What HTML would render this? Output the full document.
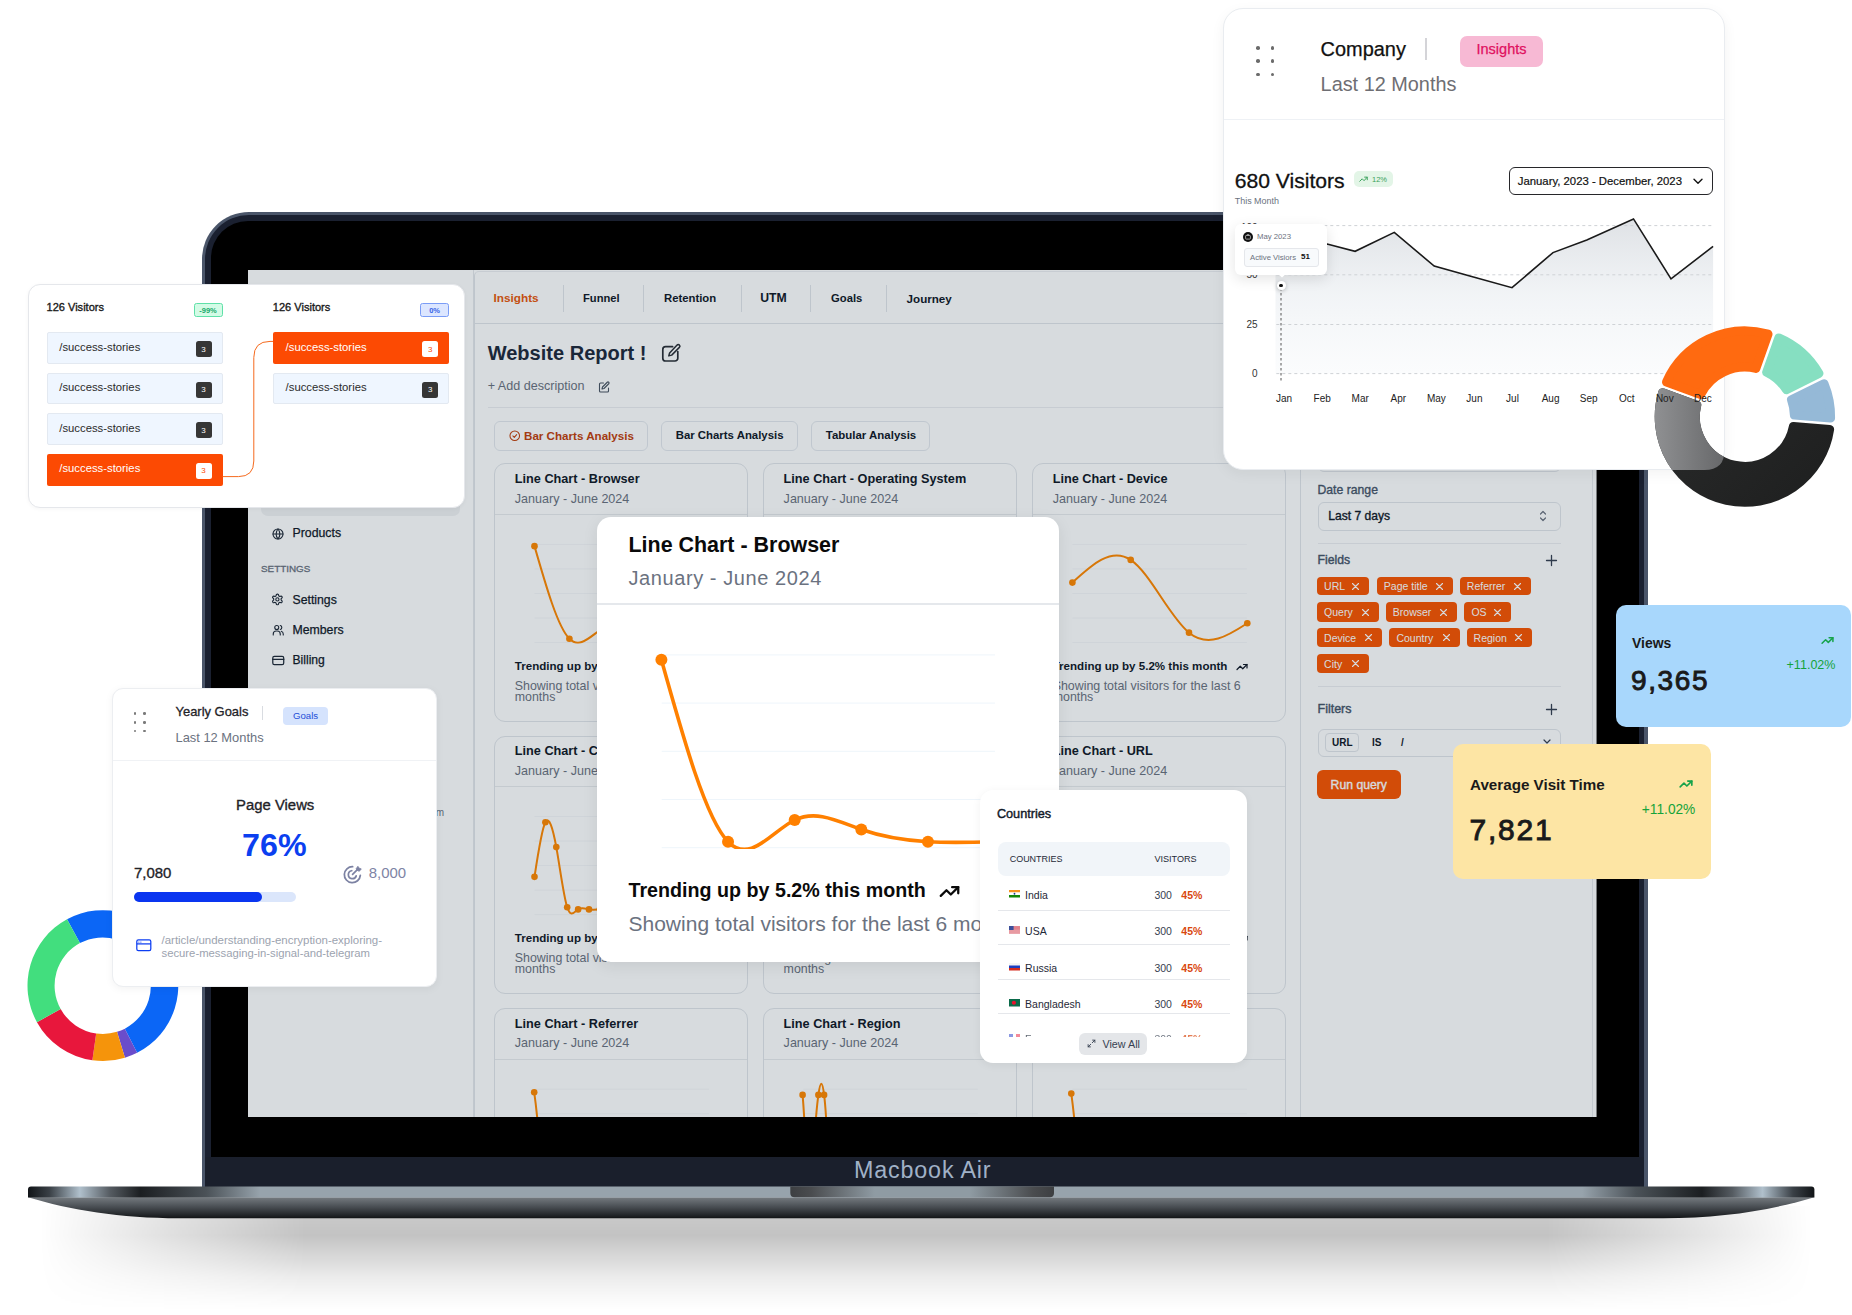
<!DOCTYPE html><html><head><meta charset="utf-8"><title>Macbook Dashboard</title><style>
*{box-sizing:border-box;margin:0;padding:0}
html,body{width:1852px;height:1315px;overflow:hidden;background:#fff;font-family:"Liberation Sans", Arial, sans-serif;}
.a{position:absolute}
.t{position:absolute;white-space:nowrap}
svg{position:absolute;overflow:visible}
</style></head><body>
<div class="a" style="left:40px;top:1206px;width:1772px;height:104px;background:linear-gradient(to bottom, rgba(0,0,0,0.2) 0%, rgba(0,0,0,0.235) 28%, rgba(0,0,0,0.15) 50%, rgba(0,0,0,0.075) 69%, rgba(0,0,0,0.025) 88%, rgba(0,0,0,0) 100%);-webkit-mask-image:linear-gradient(to right, transparent 0%, rgba(0,0,0,0.5) 7%, #000 15%, #000 85%, rgba(0,0,0,0.5) 93%, transparent 100%);"></div>
<div class="a" style="left:202.0px;top:212.0px;width:1446.0px;height:975.0px;background:#4a5569;border-radius:47px 47px 0 0;"></div>
<div class="a" style="left:204.5px;top:214.5px;width:1439.8px;height:972.5px;background:#1a2030;border-radius:44px 44px 0 0;"></div>
<div class="a" style="left:210.5px;top:221.0px;width:1428.5px;height:935.5px;background:#000;border-radius:37px 37px 0 0;"></div>
<div class="a" style="left:204.5px;top:1156.5px;width:1439.8px;height:30.5px;background:#1a1f2c;"></div>
<div class="t " style="left:922.7px;top:1158.5px;font-size:23.3px;line-height:23.3px;color:#a0b1c7;font-weight:400;letter-spacing:0.85px;transform:translateX(-50%);">Macbook Air</div>
<div class="a" style="left:0;top:0;width:1852px;height:1315px;clip-path:inset(270px 255.5px 198px 248px);background:#fff">
<div class="a" style="left:261.0px;top:480.0px;width:199.0px;height:35.5px;background:#f1f2f4;border-radius:7px;"></div>
<svg style="left:271.5px;top:527.5px" width="12" height="12" viewBox="0 0 24 24" stroke="#1f2937" stroke-width="2.2" fill="none" stroke-linecap="round" stroke-linejoin="round"><circle cx="12" cy="12" r="10"/><path d="M2 12h20M12 2a15 15 0 0 1 0 20M12 2a15 15 0 0 0 0 20"/></svg>
<div class="t " style="left:292.5px;top:527.3px;font-size:12.32px;line-height:12.32px;color:#111827;font-weight:400;-webkit-text-stroke:0.25px #111827;">Products</div>
<div class="t " style="left:261.0px;top:563.5px;font-size:9.9px;line-height:9.9px;color:#6b7280;font-weight:400;-webkit-text-stroke:0.3px #6b7280;">SETTINGS</div>
<svg style="left:271.3px;top:593.3px" width="12.8" height="12.8" viewBox="0 0 24 24" stroke="#1f2937" stroke-width="2.1" fill="none" stroke-linecap="round" stroke-linejoin="round"><path d="M12.22 2h-.44a2 2 0 0 0-2 2v.18a2 2 0 0 1-1 1.73l-.43.25a2 2 0 0 1-2 0l-.15-.08a2 2 0 0 0-2.73.73l-.22.38a2 2 0 0 0 .73 2.73l.15.1a2 2 0 0 1 1 1.72v.51a2 2 0 0 1-1 1.74l-.15.09a2 2 0 0 0-.73 2.73l.22.38a2 2 0 0 0 2.73.73l.15-.08a2 2 0 0 1 2 0l.43.25a2 2 0 0 1 1 1.73V20a2 2 0 0 0 2 2h.44a2 2 0 0 0 2-2v-.18a2 2 0 0 1 1-1.73l.43-.25a2 2 0 0 1 2 0l.15.08a2 2 0 0 0 2.73-.73l.22-.39a2 2 0 0 0-.73-2.73l-.15-.08a2 2 0 0 1-1-1.74v-.5a2 2 0 0 1 1-1.74l.15-.09a2 2 0 0 0 .73-2.73l-.22-.38a2 2 0 0 0-2.73-.73l-.15.08a2 2 0 0 1-2 0l-.43-.25a2 2 0 0 1-1-1.73V4a2 2 0 0 0-2-2z"/><circle cx="12" cy="12" r="3"/></svg>
<div class="t " style="left:292.5px;top:593.6px;font-size:12.26px;line-height:12.26px;color:#111827;font-weight:400;-webkit-text-stroke:0.25px #111827;">Settings</div>
<svg style="left:271.5px;top:623.5px" width="12.5" height="12" viewBox="0 0 24 24" stroke="#1f2937" stroke-width="2.2" fill="none" stroke-linecap="round" stroke-linejoin="round"><circle cx="9" cy="7" r="4"/><path d="M2 22v-2a6 6 0 0 1 6-6h2a6 6 0 0 1 6 6v2M16 3.1a4 4 0 0 1 0 7.8M22 22v-2a6 6 0 0 0-4-5.6"/></svg>
<div class="t " style="left:292.5px;top:623.6px;font-size:12.29px;line-height:12.29px;color:#111827;font-weight:400;-webkit-text-stroke:0.25px #111827;">Members</div>
<svg style="left:271.5px;top:655px" width="12.5" height="11" viewBox="0 0 24 20" stroke="#1f2937" stroke-width="2.4" fill="none" stroke-linecap="round" stroke-linejoin="round"><rect x="1.5" y="2" width="21" height="16" rx="3"/><path d="M1.5 8h21"/></svg>
<div class="t " style="left:292.5px;top:654.4px;font-size:12.11px;line-height:12.11px;color:#111827;font-weight:400;-webkit-text-stroke:0.25px #111827;">Billing</div>
<div class="t " style="right:1408.0px;top:807.5px;font-size:10px;line-height:10px;color:#6b7280;font-weight:400;">admin@example.com</div>
<div class="a" style="left:473.0px;top:270.0px;width:1.0px;height:847.0px;background:#e5e7eb;"></div>
<div class="a" style="left:473.5px;top:271.0px;width:827.1px;height:846.0px;border-left:1px solid #e2e5ea;border-top:1px solid #eceef1;border-radius:5px 0 0 0;"></div>
<div class="a" style="left:474.0px;top:323.0px;width:826.6px;height:1.0px;background:#e2e5ea;"></div>
<div class="t " style="left:493.5px;top:292.3px;font-size:11.79px;line-height:11.79px;color:#e8590c;font-weight:700;">Insights</div>
<div class="t " style="left:583.0px;top:292.8px;font-size:11.2px;line-height:11.2px;color:#111827;font-weight:700;">Funnel</div>
<div class="t " style="left:664.0px;top:292.7px;font-size:11.32px;line-height:11.32px;color:#111827;font-weight:700;">Retention</div>
<div class="t " style="left:760.3px;top:291.9px;font-size:12.23px;line-height:12.23px;color:#111827;font-weight:700;">UTM</div>
<div class="t " style="left:831.1px;top:292.8px;font-size:11.23px;line-height:11.23px;color:#111827;font-weight:700;">Goals</div>
<div class="t " style="left:906.6px;top:292.5px;font-size:11.62px;line-height:11.62px;color:#111827;font-weight:700;">Journey</div>
<div class="a" style="left:562.6px;top:284.6px;width:1.0px;height:27.7px;background:#e2e5ea;"></div>
<div class="a" style="left:643.4px;top:284.6px;width:1.0px;height:27.7px;background:#e2e5ea;"></div>
<div class="a" style="left:740.5px;top:284.6px;width:1.0px;height:27.7px;background:#e2e5ea;"></div>
<div class="a" style="left:810.4px;top:284.6px;width:1.0px;height:27.7px;background:#e2e5ea;"></div>
<div class="a" style="left:886.2px;top:284.6px;width:1.0px;height:27.7px;background:#e2e5ea;"></div>
<div class="t " style="left:487.7px;top:342.5px;font-size:20.05px;line-height:20.05px;color:#1e293b;font-weight:700;">Website Report !</div>
<svg style="left:0;top:0" width="1852" height="1315" viewBox="0 0 1852 1315" fill="none" stroke="#2b2f36" stroke-width="1.7" stroke-linecap="round" stroke-linejoin="round"><path d="M672.6,346.7 H665.6 A2.8,2.8 0 0 0 662.8,349.5 V358.2 A2.8,2.8 0 0 0 665.6,361 H675 A2.8,2.8 0 0 0 677.8,358.2 V351.6"/><path d="M677.1,345.1 a1.6,1.6 0 0 1 2.3,2.3 l-7.7,7.7 -2.9,0.8 0.8,-2.9 z" stroke-width="1.5"/></svg>
<div class="t " style="left:487.7px;top:380.3px;font-size:12.57px;line-height:12.57px;color:#6b7280;font-weight:400;">+ Add description</div>
<svg style="left:598px;top:380.5px" width="12" height="12" viewBox="0 0 24 24" fill="none" stroke="#4b5563" stroke-width="2.2" stroke-linecap="round" stroke-linejoin="round"><path d="M11 4H5a2 2 0 0 0-2 2v14a2 2 0 0 0 2 2h14a2 2 0 0 0 2-2v-6"/><path d="M18.5 2.5a2.1 2.1 0 0 1 3 3L12 15l-4 1 1-4z"/></svg>
<div class="a" style="left:487.7px;top:406.5px;width:812.3px;height:1.0px;background:#eceef1;"></div>
<div class="a" style="left:493.5px;top:421.2px;width:154.0px;height:29.4px;border:1px solid #e4e8ee;border-radius:6px;"></div>
<svg style="left:508.5px;top:430px" width="11.5" height="11.5" viewBox="0 0 24 24" fill="none" stroke="#c2410c" stroke-width="2.2" stroke-linecap="round" stroke-linejoin="round"><circle cx="12" cy="12" r="10"/><path d="M8 12.5l3 3 5-6"/></svg>
<div class="t " style="left:524.0px;top:430.0px;font-size:11.61px;line-height:11.61px;color:#c2410c;font-weight:700;">Bar Charts Analysis</div>
<div class="a" style="left:661.2px;top:421.2px;width:136.7px;height:29.4px;border:1px solid #e4e8ee;border-radius:6px;"></div>
<div class="t " style="left:675.7px;top:430.1px;font-size:11.4px;line-height:11.4px;color:#111827;font-weight:700;">Bar Charts Analysis</div>
<div class="a" style="left:811.3px;top:421.2px;width:118.7px;height:29.4px;border:1px solid #e4e8ee;border-radius:6px;"></div>
<div class="t " style="left:825.8px;top:430.1px;font-size:11.46px;line-height:11.46px;color:#111827;font-weight:700;">Tabular Analysis</div>
<div class="a" style="left:493.8px;top:463.4px;width:254.5px;height:258.5px;border:1px solid #e2e5ea;border-radius:11px;background:#fff;"></div>
<div class="a" style="left:494.8px;top:513.9px;width:252.5px;height:1.0px;background:#e9ebee;"></div>
<div class="t " style="left:514.8px;top:473.1px;font-size:12.69px;line-height:12.69px;color:#111827;font-weight:700;">Line Chart - Browser</div>
<div class="t " style="left:514.8px;top:492.6px;font-size:12.57px;line-height:12.57px;color:#6b7280;font-weight:400;">January - June 2024</div>
<svg style="left:0;top:0" width="1852" height="1315" viewBox="0 0 1852 1315"><defs><clipPath id="c1"><rect x="0" y="0" width="1852" height="643.8"/></clipPath></defs><line x1="534.5" y1="544.40" x2="709.0" y2="544.40" stroke="#f6f7f9" stroke-width="1"/><line x1="534.5" y1="568.95" x2="709.0" y2="568.95" stroke="#f6f7f9" stroke-width="1"/><line x1="534.5" y1="593.50" x2="709.0" y2="593.50" stroke="#f6f7f9" stroke-width="1"/><line x1="534.5" y1="618.05" x2="709.0" y2="618.05" stroke="#f6f7f9" stroke-width="1"/><line x1="534.5" y1="642.60" x2="709.0" y2="642.60" stroke="#f6f7f9" stroke-width="1"/><g clip-path="url(#c1)"><path d="M534.50,546.15C546.13,586.64,557.77,627.13,569.40,638.75C581.03,650.37,592.67,633.12,604.30,627.65C615.93,622.18,627.57,628.49,639.20,632.47C650.83,636.44,662.47,638.09,674.10,638.75C685.73,639.41,697.37,639.08,709.00,638.75" fill="none" stroke="#ff8800" stroke-width="2" stroke-linecap="round"/><circle cx="534.50" cy="546.15" r="3.3" fill="#ff8800"/><circle cx="569.40" cy="638.75" r="3.3" fill="#ff8800"/><circle cx="604.30" cy="627.65" r="3.3" fill="#ff8800"/><circle cx="639.20" cy="632.47" r="3.3" fill="#ff8800"/><circle cx="674.10" cy="638.75" r="3.3" fill="#ff8800"/><circle cx="709.00" cy="638.75" r="3.3" fill="#ff8800"/></g></svg>
<div class="t " style="left:514.8px;top:660.9px;font-size:11.57px;line-height:11.57px;color:#111827;font-weight:700;">Trending up by 5.2% this month</div>
<svg style="left:697.8px;top:660.9px" width="12" height="12" viewBox="0 0 24 24" fill="none" stroke="#111827" stroke-width="2.4" stroke-linecap="round" stroke-linejoin="round"><path d="M2 17l6.5-6.5 5 5L22 7"/><path d="M15 7h7v7"/></svg>
<div class="t " style="left:514.8px;top:679.5px;font-size:12.4px;line-height:12.4px;color:#6b7280;font-weight:400;">Showing total visitors for the last 6</div>
<div class="t " style="left:514.8px;top:691.2px;font-size:12.396152974854294px;line-height:12.396152974854294px;color:#6b7280;font-weight:400;">months</div>
<div class="a" style="left:762.6px;top:463.4px;width:254.5px;height:258.5px;border:1px solid #e2e5ea;border-radius:11px;background:#fff;"></div>
<div class="a" style="left:763.6px;top:513.9px;width:252.5px;height:1.0px;background:#e9ebee;"></div>
<div class="t " style="left:783.6px;top:473.1px;font-size:12.69px;line-height:12.69px;color:#111827;font-weight:700;">Line Chart - Operating System</div>
<div class="t " style="left:783.6px;top:492.6px;font-size:12.57px;line-height:12.57px;color:#6b7280;font-weight:400;">January - June 2024</div>
<svg style="left:0;top:0" width="1852" height="1315" viewBox="0 0 1852 1315"><defs><clipPath id="c2"><rect x="0" y="0" width="1852" height="643.8"/></clipPath></defs><line x1="803.3000000000001" y1="544.40" x2="977.8000000000001" y2="544.40" stroke="#f6f7f9" stroke-width="1"/><line x1="803.3000000000001" y1="568.95" x2="977.8000000000001" y2="568.95" stroke="#f6f7f9" stroke-width="1"/><line x1="803.3000000000001" y1="593.50" x2="977.8000000000001" y2="593.50" stroke="#f6f7f9" stroke-width="1"/><line x1="803.3000000000001" y1="618.05" x2="977.8000000000001" y2="618.05" stroke="#f6f7f9" stroke-width="1"/><line x1="803.3000000000001" y1="642.60" x2="977.8000000000001" y2="642.60" stroke="#f6f7f9" stroke-width="1"/><g clip-path="url(#c2)"><path d="M803.30,562.94C814.93,583.93,826.57,604.91,838.20,602.22C849.83,599.53,861.47,573.15,873.10,577.67C884.73,582.19,896.37,617.60,908.00,621.86C919.63,626.12,931.27,599.23,942.90,592.40C954.53,585.57,966.17,598.81,977.80,612.04" fill="none" stroke="#ff8800" stroke-width="2" stroke-linecap="round"/><circle cx="803.30" cy="562.94" r="3.3" fill="#ff8800"/><circle cx="838.20" cy="602.22" r="3.3" fill="#ff8800"/><circle cx="873.10" cy="577.67" r="3.3" fill="#ff8800"/><circle cx="908.00" cy="621.86" r="3.3" fill="#ff8800"/><circle cx="942.90" cy="592.40" r="3.3" fill="#ff8800"/><circle cx="977.80" cy="612.04" r="3.3" fill="#ff8800"/></g></svg>
<div class="t " style="left:783.6px;top:660.9px;font-size:11.57px;line-height:11.57px;color:#111827;font-weight:700;">Trending up by 5.2% this month</div>
<svg style="left:966.6px;top:660.9px" width="12" height="12" viewBox="0 0 24 24" fill="none" stroke="#111827" stroke-width="2.4" stroke-linecap="round" stroke-linejoin="round"><path d="M2 17l6.5-6.5 5 5L22 7"/><path d="M15 7h7v7"/></svg>
<div class="t " style="left:783.6px;top:679.5px;font-size:12.4px;line-height:12.4px;color:#6b7280;font-weight:400;">Showing total visitors for the last 6</div>
<div class="t " style="left:783.6px;top:691.2px;font-size:12.396152974854294px;line-height:12.396152974854294px;color:#6b7280;font-weight:400;">months</div>
<div class="a" style="left:1031.7px;top:463.4px;width:254.5px;height:258.5px;border:1px solid #e2e5ea;border-radius:11px;background:#fff;"></div>
<div class="a" style="left:1032.7px;top:513.9px;width:252.5px;height:1.0px;background:#e9ebee;"></div>
<div class="t " style="left:1052.7px;top:473.1px;font-size:12.69px;line-height:12.69px;color:#111827;font-weight:700;">Line Chart - Device</div>
<div class="t " style="left:1052.7px;top:492.6px;font-size:12.57px;line-height:12.57px;color:#6b7280;font-weight:400;">January - June 2024</div>
<svg style="left:0;top:0" width="1852" height="1315" viewBox="0 0 1852 1315"><defs><clipPath id="c3"><rect x="0" y="0" width="1852" height="643.8"/></clipPath></defs><line x1="1072.4" y1="544.40" x2="1246.9" y2="544.40" stroke="#f6f7f9" stroke-width="1"/><line x1="1072.4" y1="568.95" x2="1246.9" y2="568.95" stroke="#f6f7f9" stroke-width="1"/><line x1="1072.4" y1="593.50" x2="1246.9" y2="593.50" stroke="#f6f7f9" stroke-width="1"/><line x1="1072.4" y1="618.05" x2="1246.9" y2="618.05" stroke="#f6f7f9" stroke-width="1"/><line x1="1072.4" y1="642.60" x2="1246.9" y2="642.60" stroke="#f6f7f9" stroke-width="1"/><g clip-path="url(#c3)"><path d="M1072.40,582.58C1091.83,564.71,1111.27,546.84,1130.70,559.90C1150.13,572.96,1169.57,616.95,1189.00,632.66C1208.43,648.37,1227.87,635.80,1247.30,623.23" fill="none" stroke="#ff8800" stroke-width="2" stroke-linecap="round"/><circle cx="1072.40" cy="582.58" r="3.3" fill="#ff8800"/><circle cx="1130.70" cy="559.90" r="3.3" fill="#ff8800"/><circle cx="1189.00" cy="632.66" r="3.3" fill="#ff8800"/><circle cx="1247.30" cy="623.23" r="3.3" fill="#ff8800"/></g></svg>
<div class="t " style="left:1052.7px;top:660.9px;font-size:11.57px;line-height:11.57px;color:#111827;font-weight:700;">Trending up by 5.2% this month</div>
<svg style="left:1235.7px;top:660.9px" width="12" height="12" viewBox="0 0 24 24" fill="none" stroke="#111827" stroke-width="2.4" stroke-linecap="round" stroke-linejoin="round"><path d="M2 17l6.5-6.5 5 5L22 7"/><path d="M15 7h7v7"/></svg>
<div class="t " style="left:1052.7px;top:679.5px;font-size:12.4px;line-height:12.4px;color:#6b7280;font-weight:400;">Showing total visitors for the last 6</div>
<div class="t " style="left:1052.7px;top:691.2px;font-size:12.396152974854294px;line-height:12.396152974854294px;color:#6b7280;font-weight:400;">months</div>
<div class="a" style="left:493.8px;top:735.5px;width:254.5px;height:258.5px;border:1px solid #e2e5ea;border-radius:11px;background:#fff;"></div>
<div class="a" style="left:494.8px;top:786.0px;width:252.5px;height:1.0px;background:#e9ebee;"></div>
<div class="t " style="left:514.8px;top:745.2px;font-size:12.69px;line-height:12.69px;color:#111827;font-weight:700;">Line Chart - Country</div>
<div class="t " style="left:514.8px;top:764.7px;font-size:12.57px;line-height:12.57px;color:#6b7280;font-weight:400;">January - June 2024</div>
<svg style="left:0;top:0" width="1852" height="1315" viewBox="0 0 1852 1315"><defs><clipPath id="c4"><rect x="0" y="0" width="1852" height="915.9"/></clipPath></defs><line x1="534.5" y1="816.50" x2="709.0" y2="816.50" stroke="#f6f7f9" stroke-width="1"/><line x1="534.5" y1="841.05" x2="709.0" y2="841.05" stroke="#f6f7f9" stroke-width="1"/><line x1="534.5" y1="865.60" x2="709.0" y2="865.60" stroke="#f6f7f9" stroke-width="1"/><line x1="534.5" y1="890.15" x2="709.0" y2="890.15" stroke="#f6f7f9" stroke-width="1"/><line x1="534.5" y1="914.70" x2="709.0" y2="914.70" stroke="#f6f7f9" stroke-width="1"/><g clip-path="url(#c4)"><path d="M534.50,876.87C538.13,852.79,541.77,828.71,545.40,822.27C549.03,815.84,552.67,827.06,556.30,847.12C559.93,867.17,563.57,896.06,567.20,907.22C570.83,918.37,574.47,911.79,578.10,909.38C581.73,906.97,585.37,908.73,589.00,909.38C592.63,910.02,596.27,909.55,599.90,909.38C603.53,909.20,607.17,909.33,610.80,909.38C614.43,909.42,618.07,909.39,621.70,909.38C625.33,909.36,628.97,909.37,632.60,909.38C636.23,909.38,639.87,909.38,643.50,909.38C647.13,909.38,650.77,909.38,654.40,909.38C658.03,909.38,661.67,909.38,665.30,909.38C668.93,909.38,672.57,909.38,676.20,909.38C679.83,909.38,683.47,909.38,687.10,909.38C690.73,909.38,694.37,909.38,698.00,909.38C701.63,909.38,705.27,909.38,708.90,909.38" fill="none" stroke="#ff8800" stroke-width="2" stroke-linecap="round"/><circle cx="534.50" cy="876.87" r="3.3" fill="#ff8800"/><circle cx="545.40" cy="822.27" r="3.3" fill="#ff8800"/><circle cx="556.30" cy="847.12" r="3.3" fill="#ff8800"/><circle cx="567.20" cy="907.22" r="3.3" fill="#ff8800"/><circle cx="578.10" cy="909.38" r="3.3" fill="#ff8800"/><circle cx="589.00" cy="909.38" r="3.3" fill="#ff8800"/><circle cx="599.90" cy="909.38" r="3.3" fill="#ff8800"/><circle cx="610.80" cy="909.38" r="3.3" fill="#ff8800"/><circle cx="621.70" cy="909.38" r="3.3" fill="#ff8800"/><circle cx="632.60" cy="909.38" r="3.3" fill="#ff8800"/><circle cx="643.50" cy="909.38" r="3.3" fill="#ff8800"/><circle cx="654.40" cy="909.38" r="3.3" fill="#ff8800"/><circle cx="665.30" cy="909.38" r="3.3" fill="#ff8800"/><circle cx="676.20" cy="909.38" r="3.3" fill="#ff8800"/><circle cx="687.10" cy="909.38" r="3.3" fill="#ff8800"/><circle cx="698.00" cy="909.38" r="3.3" fill="#ff8800"/><circle cx="708.90" cy="909.38" r="3.3" fill="#ff8800"/></g></svg>
<div class="t " style="left:514.8px;top:933.0px;font-size:11.57px;line-height:11.57px;color:#111827;font-weight:700;">Trending up by 5.2% this month</div>
<svg style="left:697.8px;top:933.0px" width="12" height="12" viewBox="0 0 24 24" fill="none" stroke="#111827" stroke-width="2.4" stroke-linecap="round" stroke-linejoin="round"><path d="M2 17l6.5-6.5 5 5L22 7"/><path d="M15 7h7v7"/></svg>
<div class="t " style="left:514.8px;top:951.6px;font-size:12.4px;line-height:12.4px;color:#6b7280;font-weight:400;">Showing total visitors for the last 6</div>
<div class="t " style="left:514.8px;top:963.3px;font-size:12.396152974854294px;line-height:12.396152974854294px;color:#6b7280;font-weight:400;">months</div>
<div class="a" style="left:762.6px;top:735.5px;width:254.5px;height:258.5px;border:1px solid #e2e5ea;border-radius:11px;background:#fff;"></div>
<div class="a" style="left:763.6px;top:786.0px;width:252.5px;height:1.0px;background:#e9ebee;"></div>
<div class="t " style="left:783.6px;top:745.2px;font-size:12.69px;line-height:12.69px;color:#111827;font-weight:700;">Line Chart - City</div>
<div class="t " style="left:783.6px;top:764.7px;font-size:12.57px;line-height:12.57px;color:#6b7280;font-weight:400;">January - June 2024</div>
<svg style="left:0;top:0" width="1852" height="1315" viewBox="0 0 1852 1315"><defs><clipPath id="c5"><rect x="0" y="0" width="1852" height="915.9"/></clipPath></defs><line x1="803.3000000000001" y1="816.50" x2="977.8000000000001" y2="816.50" stroke="#f6f7f9" stroke-width="1"/><line x1="803.3000000000001" y1="841.05" x2="977.8000000000001" y2="841.05" stroke="#f6f7f9" stroke-width="1"/><line x1="803.3000000000001" y1="865.60" x2="977.8000000000001" y2="865.60" stroke="#f6f7f9" stroke-width="1"/><line x1="803.3000000000001" y1="890.15" x2="977.8000000000001" y2="890.15" stroke="#f6f7f9" stroke-width="1"/><line x1="803.3000000000001" y1="914.70" x2="977.8000000000001" y2="914.70" stroke="#f6f7f9" stroke-width="1"/><g clip-path="url(#c5)"><path d="M803.30,864.50C806.93,845.84,810.57,827.19,814.20,835.04C817.83,842.89,821.47,877.25,825.10,893.96C828.73,910.67,832.37,909.72,836.00,909.38C839.63,909.03,843.27,909.28,846.90,909.38C850.53,909.47,854.17,909.40,857.80,909.38C861.43,909.35,865.07,909.37,868.70,909.38C872.33,909.38,875.97,909.38,879.60,909.38C883.23,909.38,886.87,909.38,890.50,909.38C894.13,909.38,897.77,909.38,901.40,909.38C905.03,909.38,908.67,909.38,912.30,909.38C915.93,909.38,919.57,909.38,923.20,909.38C926.83,909.38,930.47,909.38,934.10,909.38C937.73,909.38,941.37,909.38,945.00,909.38C948.63,909.38,952.27,909.38,955.90,909.38C959.53,909.38,963.17,909.38,966.80,909.38C970.43,909.38,974.07,909.38,977.70,909.38" fill="none" stroke="#ff8800" stroke-width="2" stroke-linecap="round"/><circle cx="803.30" cy="864.50" r="3.3" fill="#ff8800"/><circle cx="814.20" cy="835.04" r="3.3" fill="#ff8800"/><circle cx="825.10" cy="893.96" r="3.3" fill="#ff8800"/><circle cx="836.00" cy="909.38" r="3.3" fill="#ff8800"/><circle cx="846.90" cy="909.38" r="3.3" fill="#ff8800"/><circle cx="857.80" cy="909.38" r="3.3" fill="#ff8800"/><circle cx="868.70" cy="909.38" r="3.3" fill="#ff8800"/><circle cx="879.60" cy="909.38" r="3.3" fill="#ff8800"/><circle cx="890.50" cy="909.38" r="3.3" fill="#ff8800"/><circle cx="901.40" cy="909.38" r="3.3" fill="#ff8800"/><circle cx="912.30" cy="909.38" r="3.3" fill="#ff8800"/><circle cx="923.20" cy="909.38" r="3.3" fill="#ff8800"/><circle cx="934.10" cy="909.38" r="3.3" fill="#ff8800"/><circle cx="945.00" cy="909.38" r="3.3" fill="#ff8800"/><circle cx="955.90" cy="909.38" r="3.3" fill="#ff8800"/><circle cx="966.80" cy="909.38" r="3.3" fill="#ff8800"/><circle cx="977.70" cy="909.38" r="3.3" fill="#ff8800"/></g></svg>
<div class="t " style="left:783.6px;top:933.0px;font-size:11.57px;line-height:11.57px;color:#111827;font-weight:700;">Trending up by 5.2% this month</div>
<svg style="left:966.6px;top:933.0px" width="12" height="12" viewBox="0 0 24 24" fill="none" stroke="#111827" stroke-width="2.4" stroke-linecap="round" stroke-linejoin="round"><path d="M2 17l6.5-6.5 5 5L22 7"/><path d="M15 7h7v7"/></svg>
<div class="t " style="left:783.6px;top:951.6px;font-size:12.4px;line-height:12.4px;color:#6b7280;font-weight:400;">Showing total visitors for the last 6</div>
<div class="t " style="left:783.6px;top:963.3px;font-size:12.396152974854294px;line-height:12.396152974854294px;color:#6b7280;font-weight:400;">months</div>
<div class="a" style="left:1031.7px;top:735.5px;width:254.5px;height:258.5px;border:1px solid #e2e5ea;border-radius:11px;background:#fff;"></div>
<div class="a" style="left:1032.7px;top:786.0px;width:252.5px;height:1.0px;background:#e9ebee;"></div>
<div class="t " style="left:1052.7px;top:745.2px;font-size:12.69px;line-height:12.69px;color:#111827;font-weight:700;">Line Chart - URL</div>
<div class="t " style="left:1052.7px;top:764.7px;font-size:12.57px;line-height:12.57px;color:#6b7280;font-weight:400;">January - June 2024</div>
<svg style="left:0;top:0" width="1852" height="1315" viewBox="0 0 1852 1315"><defs><clipPath id="c6"><rect x="0" y="0" width="1852" height="915.9"/></clipPath></defs><line x1="1072.4" y1="816.50" x2="1246.9" y2="816.50" stroke="#f6f7f9" stroke-width="1"/><line x1="1072.4" y1="841.05" x2="1246.9" y2="841.05" stroke="#f6f7f9" stroke-width="1"/><line x1="1072.4" y1="865.60" x2="1246.9" y2="865.60" stroke="#f6f7f9" stroke-width="1"/><line x1="1072.4" y1="890.15" x2="1246.9" y2="890.15" stroke="#f6f7f9" stroke-width="1"/><line x1="1072.4" y1="914.70" x2="1246.9" y2="914.70" stroke="#f6f7f9" stroke-width="1"/><g clip-path="url(#c6)"><path d="M1072.40,844.86C1075.97,872.13,1079.53,899.40,1083.10,909.38C1086.67,919.36,1090.23,912.05,1093.80,909.38C1097.37,906.70,1100.93,908.66,1104.50,909.38C1108.07,910.09,1111.63,909.57,1115.20,909.38C1118.77,909.19,1122.33,909.33,1125.90,909.38C1129.47,909.43,1133.03,909.39,1136.60,909.38C1140.17,909.36,1143.73,909.37,1147.30,909.38C1150.87,909.38,1154.43,909.38,1158.00,909.38C1161.57,909.38,1165.13,909.38,1168.70,909.38C1172.27,909.38,1175.83,909.38,1179.40,909.38C1182.97,909.38,1186.53,909.38,1190.10,909.38C1193.67,909.38,1197.23,909.38,1200.80,909.38C1204.37,909.38,1207.93,909.38,1211.50,909.38C1215.07,909.38,1218.63,909.38,1222.20,909.38C1225.77,909.38,1229.33,909.38,1232.90,909.38C1236.47,909.38,1240.03,909.38,1243.60,909.38" fill="none" stroke="#ff8800" stroke-width="2" stroke-linecap="round"/><circle cx="1072.40" cy="844.86" r="3.3" fill="#ff8800"/><circle cx="1083.10" cy="909.38" r="3.3" fill="#ff8800"/><circle cx="1093.80" cy="909.38" r="3.3" fill="#ff8800"/><circle cx="1104.50" cy="909.38" r="3.3" fill="#ff8800"/><circle cx="1115.20" cy="909.38" r="3.3" fill="#ff8800"/><circle cx="1125.90" cy="909.38" r="3.3" fill="#ff8800"/><circle cx="1136.60" cy="909.38" r="3.3" fill="#ff8800"/><circle cx="1147.30" cy="909.38" r="3.3" fill="#ff8800"/><circle cx="1158.00" cy="909.38" r="3.3" fill="#ff8800"/><circle cx="1168.70" cy="909.38" r="3.3" fill="#ff8800"/><circle cx="1179.40" cy="909.38" r="3.3" fill="#ff8800"/><circle cx="1190.10" cy="909.38" r="3.3" fill="#ff8800"/><circle cx="1200.80" cy="909.38" r="3.3" fill="#ff8800"/><circle cx="1211.50" cy="909.38" r="3.3" fill="#ff8800"/><circle cx="1222.20" cy="909.38" r="3.3" fill="#ff8800"/><circle cx="1232.90" cy="909.38" r="3.3" fill="#ff8800"/><circle cx="1243.60" cy="909.38" r="3.3" fill="#ff8800"/></g></svg>
<div class="t " style="left:1052.7px;top:933.0px;font-size:11.57px;line-height:11.57px;color:#111827;font-weight:700;">Trending up by 5.2% this month</div>
<svg style="left:1235.7px;top:933.0px" width="12" height="12" viewBox="0 0 24 24" fill="none" stroke="#111827" stroke-width="2.4" stroke-linecap="round" stroke-linejoin="round"><path d="M2 17l6.5-6.5 5 5L22 7"/><path d="M15 7h7v7"/></svg>
<div class="t " style="left:1052.7px;top:951.6px;font-size:12.4px;line-height:12.4px;color:#6b7280;font-weight:400;">Showing total visitors for the last 6</div>
<div class="t " style="left:1052.7px;top:963.3px;font-size:12.396152974854294px;line-height:12.396152974854294px;color:#6b7280;font-weight:400;">months</div>
<div class="a" style="left:493.8px;top:1008.2px;width:254.5px;height:258.5px;border:1px solid #e2e5ea;border-radius:11px;background:#fff;"></div>
<div class="a" style="left:494.8px;top:1058.7px;width:252.5px;height:1.0px;background:#e9ebee;"></div>
<div class="t " style="left:514.8px;top:1017.9px;font-size:12.69px;line-height:12.69px;color:#111827;font-weight:700;">Line Chart - Referrer</div>
<div class="t " style="left:514.8px;top:1037.4px;font-size:12.57px;line-height:12.57px;color:#6b7280;font-weight:400;">January - June 2024</div>
<svg style="left:0;top:0" width="1852" height="1315" viewBox="0 0 1852 1315"><defs><clipPath id="c7"><rect x="0" y="0" width="1852" height="1188.6"/></clipPath></defs><line x1="534.5" y1="1089.20" x2="709.0" y2="1089.20" stroke="#f6f7f9" stroke-width="1"/><line x1="534.5" y1="1113.75" x2="709.0" y2="1113.75" stroke="#f6f7f9" stroke-width="1"/><line x1="534.5" y1="1138.30" x2="709.0" y2="1138.30" stroke="#f6f7f9" stroke-width="1"/><line x1="534.5" y1="1162.85" x2="709.0" y2="1162.85" stroke="#f6f7f9" stroke-width="1"/><line x1="534.5" y1="1187.40" x2="709.0" y2="1187.40" stroke="#f6f7f9" stroke-width="1"/><g clip-path="url(#c7)"><path d="" fill="none" stroke="#ff9d00" stroke-width="2" stroke-linecap="round"/></g></svg>
<div class="t " style="left:514.8px;top:1205.7px;font-size:11.57px;line-height:11.57px;color:#111827;font-weight:700;">Trending up by 5.2% this month</div>
<svg style="left:697.8px;top:1205.7px" width="12" height="12" viewBox="0 0 24 24" fill="none" stroke="#111827" stroke-width="2.4" stroke-linecap="round" stroke-linejoin="round"><path d="M2 17l6.5-6.5 5 5L22 7"/><path d="M15 7h7v7"/></svg>
<div class="t " style="left:514.8px;top:1224.3px;font-size:12.4px;line-height:12.4px;color:#6b7280;font-weight:400;">Showing total visitors for the last 6</div>
<div class="t " style="left:514.8px;top:1236.0px;font-size:12.396152974854294px;line-height:12.396152974854294px;color:#6b7280;font-weight:400;">months</div>
<div class="a" style="left:762.6px;top:1008.2px;width:254.5px;height:258.5px;border:1px solid #e2e5ea;border-radius:11px;background:#fff;"></div>
<div class="a" style="left:763.6px;top:1058.7px;width:252.5px;height:1.0px;background:#e9ebee;"></div>
<div class="t " style="left:783.6px;top:1017.9px;font-size:12.69px;line-height:12.69px;color:#111827;font-weight:700;">Line Chart - Region</div>
<div class="t " style="left:783.6px;top:1037.4px;font-size:12.57px;line-height:12.57px;color:#6b7280;font-weight:400;">January - June 2024</div>
<svg style="left:0;top:0" width="1852" height="1315" viewBox="0 0 1852 1315"><defs><clipPath id="c8"><rect x="0" y="0" width="1852" height="1188.6"/></clipPath></defs><line x1="803.3000000000001" y1="1089.20" x2="977.8000000000001" y2="1089.20" stroke="#f6f7f9" stroke-width="1"/><line x1="803.3000000000001" y1="1113.75" x2="977.8000000000001" y2="1113.75" stroke="#f6f7f9" stroke-width="1"/><line x1="803.3000000000001" y1="1138.30" x2="977.8000000000001" y2="1138.30" stroke="#f6f7f9" stroke-width="1"/><line x1="803.3000000000001" y1="1162.85" x2="977.8000000000001" y2="1162.85" stroke="#f6f7f9" stroke-width="1"/><line x1="803.3000000000001" y1="1187.40" x2="977.8000000000001" y2="1187.40" stroke="#f6f7f9" stroke-width="1"/><g clip-path="url(#c8)"><path d="" fill="none" stroke="#ff9d00" stroke-width="2" stroke-linecap="round"/></g></svg>
<div class="t " style="left:783.6px;top:1205.7px;font-size:11.57px;line-height:11.57px;color:#111827;font-weight:700;">Trending up by 5.2% this month</div>
<svg style="left:966.6px;top:1205.7px" width="12" height="12" viewBox="0 0 24 24" fill="none" stroke="#111827" stroke-width="2.4" stroke-linecap="round" stroke-linejoin="round"><path d="M2 17l6.5-6.5 5 5L22 7"/><path d="M15 7h7v7"/></svg>
<div class="t " style="left:783.6px;top:1224.3px;font-size:12.4px;line-height:12.4px;color:#6b7280;font-weight:400;">Showing total visitors for the last 6</div>
<div class="t " style="left:783.6px;top:1236.0px;font-size:12.396152974854294px;line-height:12.396152974854294px;color:#6b7280;font-weight:400;">months</div>
<div class="a" style="left:1031.7px;top:1008.2px;width:254.5px;height:258.5px;border:1px solid #e2e5ea;border-radius:11px;background:#fff;"></div>
<div class="a" style="left:1032.7px;top:1058.7px;width:252.5px;height:1.0px;background:#e9ebee;"></div>
<div class="t " style="left:1052.7px;top:1017.9px;font-size:12.69px;line-height:12.69px;color:#111827;font-weight:700;">Line Chart - Page Title</div>
<div class="t " style="left:1052.7px;top:1037.4px;font-size:12.57px;line-height:12.57px;color:#6b7280;font-weight:400;">January - June 2024</div>
<svg style="left:0;top:0" width="1852" height="1315" viewBox="0 0 1852 1315"><defs><clipPath id="c9"><rect x="0" y="0" width="1852" height="1188.6"/></clipPath></defs><line x1="1072.4" y1="1089.20" x2="1246.9" y2="1089.20" stroke="#f6f7f9" stroke-width="1"/><line x1="1072.4" y1="1113.75" x2="1246.9" y2="1113.75" stroke="#f6f7f9" stroke-width="1"/><line x1="1072.4" y1="1138.30" x2="1246.9" y2="1138.30" stroke="#f6f7f9" stroke-width="1"/><line x1="1072.4" y1="1162.85" x2="1246.9" y2="1162.85" stroke="#f6f7f9" stroke-width="1"/><line x1="1072.4" y1="1187.40" x2="1246.9" y2="1187.40" stroke="#f6f7f9" stroke-width="1"/><g clip-path="url(#c9)"><path d="" fill="none" stroke="#ff9d00" stroke-width="2" stroke-linecap="round"/></g></svg>
<div class="t " style="left:1052.7px;top:1205.7px;font-size:11.57px;line-height:11.57px;color:#111827;font-weight:700;">Trending up by 5.2% this month</div>
<svg style="left:1235.7px;top:1205.7px" width="12" height="12" viewBox="0 0 24 24" fill="none" stroke="#111827" stroke-width="2.4" stroke-linecap="round" stroke-linejoin="round"><path d="M2 17l6.5-6.5 5 5L22 7"/><path d="M15 7h7v7"/></svg>
<div class="t " style="left:1052.7px;top:1224.3px;font-size:12.4px;line-height:12.4px;color:#6b7280;font-weight:400;">Showing total visitors for the last 6</div>
<div class="t " style="left:1052.7px;top:1236.0px;font-size:12.396152974854294px;line-height:12.396152974854294px;color:#6b7280;font-weight:400;">months</div>
<svg style="left:0;top:0" width="1852" height="1315" viewBox="0 0 1852 1315" fill="none" stroke="#ff8800" stroke-width="2" stroke-linecap="round">
<path d="M534.2,1092.3 C535.3,1100 536.5,1109 537.9,1125"/><circle cx="534.2" cy="1092.3" r="3.3" fill="#ff8800" stroke="none"/>
<path d="M802.6,1094.9 C803.2,1102 803.8,1110 804.6,1125"/><circle cx="802.6" cy="1094.9" r="3.3" fill="#ff8800" stroke="none"/>
<path d="M815.4,1125 C816.4,1112 817.5,1101 818.4,1094.9 C819.3,1088.5 820.3,1083.7 821.3,1083.7 C822.3,1083.7 823.3,1088.5 824.1,1094.9 C824.9,1101 825.8,1112 826.5,1125"/><circle cx="818.4" cy="1094.9" r="3.3" fill="#ff8800" stroke="none"/><circle cx="824.1" cy="1094.9" r="3.3" fill="#ff8800" stroke="none"/>
<path d="M1071.3,1093.6 C1072.3,1101 1073.5,1110 1074.9,1125"/><circle cx="1071.3" cy="1093.6" r="3.3" fill="#ff8800" stroke="none"/>
</svg>
<div class="a" style="left:1300.1px;top:270.0px;width:1.0px;height:847.0px;background:#e2e5ea;"></div>
<div class="a" style="left:1591.5px;top:270.0px;width:1.0px;height:847.0px;background:#e8eaed;"></div>
<div class="a" style="left:1317.5px;top:443.0px;width:243.1px;height:29.0px;border:1px solid #e2e5ea;border-radius:6px;"></div>
<div class="t " style="left:1317.5px;top:484.0px;font-size:12.23px;line-height:12.23px;color:#475569;font-weight:400;-webkit-text-stroke:0.35px #475569;">Date range</div>
<div class="a" style="left:1317.5px;top:501.6px;width:243.1px;height:29.0px;border:1px solid #e2e5ea;border-radius:6px;"></div>
<div class="t " style="left:1328.3px;top:510.2px;font-size:12.1px;line-height:12.1px;color:#111827;font-weight:400;-webkit-text-stroke:0.35px #111827;">Last 7 days</div>
<svg style="left:1539px;top:510px" width="8" height="12" viewBox="0 0 8 12" fill="none" stroke="#6b7280" stroke-width="1.2" stroke-linecap="round" stroke-linejoin="round"><path d="M1.5 4L4 1.5 6.5 4M1.5 8L4 10.5 6.5 8"/></svg>
<div class="a" style="left:1317.5px;top:543.0px;width:243.1px;height:1.0px;background:#eceef1;"></div>
<div class="t " style="left:1317.5px;top:554.1px;font-size:12.22px;line-height:12.22px;color:#475569;font-weight:400;-webkit-text-stroke:0.4px #475569;">Fields</div>
<svg style="left:1545.5px;top:555px" width="11" height="11" viewBox="0 0 11 11" stroke="#374151" stroke-width="1.3" stroke-linecap="round"><path d="M5.5 0.5v10M0.5 5.5h10"/></svg>
<div class="a" style="left:1317.1px;top:577.2px;width:52.3px;height:18.3px;background:#fa5500;border-radius:4px;"></div>
<div class="t " style="left:1324.1px;top:581.4px;font-size:10.5px;line-height:10.5px;color:#fff;font-weight:400;">URL</div>
<svg style="left:1352.4px;top:582.9px" width="7" height="7" viewBox="0 0 7 7" stroke="#fff" stroke-width="1.1" stroke-linecap="round"><path d="M0.5 0.5l6 6M6.5 0.5l-6 6"/></svg>
<div class="a" style="left:1376.8px;top:577.2px;width:76.4px;height:18.3px;background:#fa5500;border-radius:4px;"></div>
<div class="t " style="left:1383.8px;top:581.4px;font-size:10.5px;line-height:10.5px;color:#fff;font-weight:400;">Page title</div>
<svg style="left:1436.2px;top:582.9px" width="7" height="7" viewBox="0 0 7 7" stroke="#fff" stroke-width="1.1" stroke-linecap="round"><path d="M0.5 0.5l6 6M6.5 0.5l-6 6"/></svg>
<div class="a" style="left:1459.8px;top:577.2px;width:71.2px;height:18.3px;background:#fa5500;border-radius:4px;"></div>
<div class="t " style="left:1466.8px;top:581.4px;font-size:10.5px;line-height:10.5px;color:#fff;font-weight:400;">Referrer</div>
<svg style="left:1514.0px;top:582.9px" width="7" height="7" viewBox="0 0 7 7" stroke="#fff" stroke-width="1.1" stroke-linecap="round"><path d="M0.5 0.5l6 6M6.5 0.5l-6 6"/></svg>
<div class="a" style="left:1317.1px;top:602.4px;width:61.6px;height:19.2px;background:#fa5500;border-radius:4px;"></div>
<div class="t " style="left:1324.1px;top:607.0px;font-size:10.5px;line-height:10.5px;color:#fff;font-weight:400;">Query</div>
<svg style="left:1361.7px;top:608.5px" width="7" height="7" viewBox="0 0 7 7" stroke="#fff" stroke-width="1.1" stroke-linecap="round"><path d="M0.5 0.5l6 6M6.5 0.5l-6 6"/></svg>
<div class="a" style="left:1385.8px;top:602.4px;width:71.2px;height:19.2px;background:#fa5500;border-radius:4px;"></div>
<div class="t " style="left:1392.8px;top:607.0px;font-size:10.5px;line-height:10.5px;color:#fff;font-weight:400;">Browser</div>
<svg style="left:1440.0px;top:608.5px" width="7" height="7" viewBox="0 0 7 7" stroke="#fff" stroke-width="1.1" stroke-linecap="round"><path d="M0.5 0.5l6 6M6.5 0.5l-6 6"/></svg>
<div class="a" style="left:1464.4px;top:602.4px;width:46.8px;height:19.2px;background:#fa5500;border-radius:4px;"></div>
<div class="t " style="left:1471.4px;top:607.0px;font-size:10.5px;line-height:10.5px;color:#fff;font-weight:400;">OS</div>
<svg style="left:1494.2px;top:608.5px" width="7" height="7" viewBox="0 0 7 7" stroke="#fff" stroke-width="1.1" stroke-linecap="round"><path d="M0.5 0.5l6 6M6.5 0.5l-6 6"/></svg>
<div class="a" style="left:1317.1px;top:628.4px;width:64.9px;height:18.6px;background:#fa5500;border-radius:4px;"></div>
<div class="t " style="left:1324.1px;top:632.8px;font-size:10.5px;line-height:10.5px;color:#fff;font-weight:400;">Device</div>
<svg style="left:1365.0px;top:634.2px" width="7" height="7" viewBox="0 0 7 7" stroke="#fff" stroke-width="1.1" stroke-linecap="round"><path d="M0.5 0.5l6 6M6.5 0.5l-6 6"/></svg>
<div class="a" style="left:1389.4px;top:628.4px;width:70.6px;height:18.6px;background:#fa5500;border-radius:4px;"></div>
<div class="t " style="left:1396.4px;top:632.8px;font-size:10.5px;line-height:10.5px;color:#fff;font-weight:400;">Country</div>
<svg style="left:1443.0px;top:634.2px" width="7" height="7" viewBox="0 0 7 7" stroke="#fff" stroke-width="1.1" stroke-linecap="round"><path d="M0.5 0.5l6 6M6.5 0.5l-6 6"/></svg>
<div class="a" style="left:1466.6px;top:628.4px;width:65.7px;height:18.6px;background:#fa5500;border-radius:4px;"></div>
<div class="t " style="left:1473.6px;top:632.8px;font-size:10.5px;line-height:10.5px;color:#fff;font-weight:400;">Region</div>
<svg style="left:1515.3px;top:634.2px" width="7" height="7" viewBox="0 0 7 7" stroke="#fff" stroke-width="1.1" stroke-linecap="round"><path d="M0.5 0.5l6 6M6.5 0.5l-6 6"/></svg>
<div class="a" style="left:1317.1px;top:654.4px;width:51.8px;height:18.4px;background:#fa5500;border-radius:4px;"></div>
<div class="t " style="left:1324.1px;top:658.6px;font-size:10.5px;line-height:10.5px;color:#fff;font-weight:400;">City</div>
<svg style="left:1351.9px;top:660.1px" width="7" height="7" viewBox="0 0 7 7" stroke="#fff" stroke-width="1.1" stroke-linecap="round"><path d="M0.5 0.5l6 6M6.5 0.5l-6 6"/></svg>
<div class="a" style="left:1317.5px;top:686.0px;width:243.1px;height:1.0px;background:#eceef1;"></div>
<div class="t " style="left:1317.5px;top:703.0px;font-size:12.49px;line-height:12.49px;color:#475569;font-weight:400;-webkit-text-stroke:0.4px #475569;">Filters</div>
<svg style="left:1545.5px;top:704px" width="11" height="11" viewBox="0 0 11 11" stroke="#374151" stroke-width="1.3" stroke-linecap="round"><path d="M5.5 0.5v10M0.5 5.5h10"/></svg>
<div class="a" style="left:1317.5px;top:728.9px;width:243.1px;height:28.2px;border:1px solid #e2e5ea;border-radius:6px;"></div>
<div class="a" style="left:1325.0px;top:733.3px;width:33.5px;height:19.1px;border:1px solid #e2e5ea;border-radius:4px;"></div>
<div class="t " style="left:1332.0px;top:738.0px;font-size:10px;line-height:10px;color:#111827;font-weight:700;">URL</div>
<div class="t " style="left:1372.0px;top:738.0px;font-size:10px;line-height:10px;color:#111827;font-weight:700;">IS</div>
<div class="t " style="left:1401.0px;top:738.0px;font-size:10px;line-height:10px;color:#111827;font-weight:700;">/</div>
<svg style="left:1543px;top:739px" width="8" height="6" viewBox="0 0 8 6" fill="none" stroke="#374151" stroke-width="1.2" stroke-linecap="round" stroke-linejoin="round"><path d="M1 1l3 3 3-3"/></svg>
<div class="a" style="left:1317.0px;top:770.2px;width:83.6px;height:29.3px;background:#fa5500;border-radius:6px;"></div>
<div class="t " style="left:1358.8px;top:778.9px;font-size:12.22px;line-height:12.22px;color:#fff;font-weight:400;transform:translateX(-50%);-webkit-text-stroke:0.35px #fff;">Run query</div>
<div class="a" style="left:248.0px;top:270.0px;width:1348.5px;height:847.0px;background:rgba(5,30,49,0.16);"></div>
<div class="a" style="left:597.0px;top:517.0px;width:461.5px;height:444.5px;background:#fff;border-radius:14px;box-shadow:0 4px 16px rgba(0,0,0,0.08);"></div>
<div class="a" style="left:597.0px;top:603.3px;width:461.5px;height:1.3px;background:#e5e8ec;"></div>
<div class="t " style="left:628.5px;top:534.8px;font-size:21.45px;line-height:21.45px;color:#0a0a0a;font-weight:700;">Line Chart - Browser</div>
<div class="t " style="left:628.5px;top:567.8px;font-size:20px;line-height:20px;color:#6b7280;font-weight:400;letter-spacing:0.58px;">January - June 2024</div>
<svg style="left:0;top:0" width="1852" height="1315" viewBox="0 0 1852 1315"><defs><clipPath id="c10"><rect x="0" y="0" width="1852" height="848.9"/></clipPath></defs><line x1="661.7" y1="654.90" x2="995" y2="654.90" stroke="#eef5fb" stroke-width="1"/><line x1="661.7" y1="703.10" x2="995" y2="703.10" stroke="#eef5fb" stroke-width="1"/><line x1="661.7" y1="751.30" x2="995" y2="751.30" stroke="#eef5fb" stroke-width="1"/><line x1="661.7" y1="799.50" x2="995" y2="799.50" stroke="#eef5fb" stroke-width="1"/><line x1="661.7" y1="847.70" x2="995" y2="847.70" stroke="#eef5fb" stroke-width="1"/><g clip-path="url(#c10)"><path d="M661.40,659.80C683.61,739.33,705.83,818.85,728.04,841.70C750.25,864.55,772.47,830.71,794.68,820.00C816.89,809.29,839.11,821.71,861.32,829.50C883.53,837.29,905.75,840.44,927.96,841.70C950.17,842.96,972.39,842.33,994.60,841.70" fill="none" stroke="#ff8000" stroke-width="3.6" stroke-linecap="round"/><circle cx="661.40" cy="659.80" r="6" fill="#ff8000"/><circle cx="728.04" cy="841.70" r="6" fill="#ff8000"/><circle cx="794.68" cy="820.00" r="6" fill="#ff8000"/><circle cx="861.32" cy="829.50" r="6" fill="#ff8000"/><circle cx="927.96" cy="841.70" r="6" fill="#ff8000"/><circle cx="994.60" cy="841.70" r="6" fill="#ff8000"/></g></svg>
<div class="t " style="left:628.5px;top:881.2px;font-size:19.68px;line-height:19.68px;color:#0a0a0a;font-weight:700;">Trending up by 5.2% this month</div>
<svg style="left:938px;top:880.5px" width="23" height="21" viewBox="0 0 24 24" fill="none" stroke="#0a0a0a" stroke-width="2.6" stroke-linecap="round" stroke-linejoin="round"><path d="M2 17l6.5-6.5 5 5L22 7"/><path d="M15 7h7v7"/></svg>
<div class="t " style="left:628.5px;top:913.1px;font-size:21px;line-height:21px;color:#6b7280;font-weight:400;">Showing total visitors for the last 6 months</div>
<div class="a" style="left:980.0px;top:790.0px;width:267.0px;height:273.0px;background:#fff;border-radius:13px;box-shadow:0 2px 10px rgba(0,0,0,0.06);"></div>
<div class="t " style="left:996.9px;top:808.3px;font-size:12.69px;line-height:12.69px;color:#111827;font-weight:400;-webkit-text-stroke:0.4px #111827;">Countries</div>
<div class="a" style="left:998.2px;top:842.2px;width:231.6px;height:34.2px;background:#f1f5f9;border-radius:8px;"></div>
<div class="t " style="left:1009.7px;top:854.9px;font-size:8.98px;line-height:8.98px;color:#1f2937;font-weight:400;">COUNTRIES</div>
<div class="t " style="left:1154.4px;top:854.9px;font-size:9.1px;line-height:9.1px;color:#1f2937;font-weight:400;">VISITORS</div>
<svg style="left:1009.3px;top:889.9px" width="11" height="7.5" viewBox="0 0 11 7.5"><g><rect width="11" height="2.5" fill="#f7931e"/><rect y="2.5" width="11" height="2.5" fill="#fff"/><rect y="5" width="11" height="2.5" fill="#138808"/><circle cx="5.5" cy="3.75" r="0.9" fill="#1a3b8c"/></g></svg>
<div class="t " style="left:1025.1px;top:889.9px;font-size:10.5px;line-height:10.5px;color:#1f2937;font-weight:400;">India</div>
<div class="t " style="left:1154.4px;top:889.9px;font-size:10.5px;line-height:10.5px;color:#374151;font-weight:400;">300</div>
<div class="t " style="left:1181.3px;top:889.9px;font-size:10.5px;line-height:10.5px;color:#d9480f;font-weight:700;">45%</div>
<svg style="left:1009.3px;top:926.0px" width="11" height="7.5" viewBox="0 0 11 7.5"><g><rect width="11" height="7.5" fill="#d8505e"/><rect y="0.58" width="11" height="0.58" fill="#f3d0d4"/><rect y="1.73" width="11" height="0.58" fill="#f3d0d4"/><rect y="2.88" width="11" height="0.58" fill="#f3d0d4"/><rect y="4.03" width="11" height="0.58" fill="#f3d0d4"/><rect y="5.18" width="11" height="0.58" fill="#f3d0d4"/><rect y="6.33" width="11" height="0.58" fill="#f3d0d4"/><rect width="4.6" height="4" fill="#3c4f9a"/></g></svg>
<div class="t " style="left:1025.1px;top:926.0px;font-size:10.5px;line-height:10.5px;color:#1f2937;font-weight:400;">USA</div>
<div class="t " style="left:1154.4px;top:926.0px;font-size:10.5px;line-height:10.5px;color:#374151;font-weight:400;">300</div>
<div class="t " style="left:1181.3px;top:926.0px;font-size:10.5px;line-height:10.5px;color:#d9480f;font-weight:700;">45%</div>
<svg style="left:1009.3px;top:962.5px" width="11" height="7.5" viewBox="0 0 11 7.5"><g><rect width="11" height="2.5" fill="#f4f4f4"/><rect y="2.5" width="11" height="2.5" fill="#1c3fbf"/><rect y="5" width="11" height="2.5" fill="#d52b1e"/></g></svg>
<div class="t " style="left:1025.1px;top:962.5px;font-size:10.5px;line-height:10.5px;color:#1f2937;font-weight:400;">Russia</div>
<div class="t " style="left:1154.4px;top:962.5px;font-size:10.5px;line-height:10.5px;color:#374151;font-weight:400;">300</div>
<div class="t " style="left:1181.3px;top:962.5px;font-size:10.5px;line-height:10.5px;color:#d9480f;font-weight:700;">45%</div>
<svg style="left:1009.3px;top:998.6px" width="11" height="7.5" viewBox="0 0 11 7.5"><g><rect width="11" height="7.5" fill="#0a6a4a"/><circle cx="4.9" cy="3.75" r="2.1" fill="#e8112d"/></g></svg>
<div class="t " style="left:1025.1px;top:998.6px;font-size:10.5px;line-height:10.5px;color:#1f2937;font-weight:400;">Bangladesh</div>
<div class="t " style="left:1154.4px;top:998.6px;font-size:10.5px;line-height:10.5px;color:#374151;font-weight:400;">300</div>
<div class="t " style="left:1181.3px;top:998.6px;font-size:10.5px;line-height:10.5px;color:#d9480f;font-weight:700;">45%</div>
<div class="a" style="left:998.2px;top:909.7px;width:231.6px;height:1.0px;background:#e5e7eb;"></div>
<div class="a" style="left:998.2px;top:944.3px;width:231.6px;height:1.0px;background:#e5e7eb;"></div>
<div class="a" style="left:998.2px;top:979.2px;width:231.6px;height:1.0px;background:#e5e7eb;"></div>
<div class="a" style="left:998.2px;top:1013.3px;width:231.6px;height:1.0px;background:#e5e7eb;"></div>
<div class="a" style="left:1000px;top:1030px;width:230px;height:7px;overflow:hidden;opacity:0.7">
<div class="t" style="left:9.3px;top:4px;width:11px;height:7px;background:linear-gradient(90deg,#5b6ed6 33%,#fff 33% 66%,#ef5a6f 66%)"></div>
<div class="t" style="left:25px;top:3.5px;font-size:10.5px;line-height:10.5px;color:#1f2937">France</div>
<div class="t" style="left:154.4px;top:3.5px;font-size:10.5px;line-height:10.5px;color:#374151">300</div>
<div class="t" style="left:181.3px;top:3.5px;font-size:10.5px;line-height:10.5px;color:#d9480f;font-weight:700">45%</div>
</div>
<div class="a" style="left:1078.7px;top:1033.2px;width:68.2px;height:21.4px;background:#e4e6e9;border-radius:6px;"></div>
<svg style="left:1087px;top:1039px" width="9" height="9" viewBox="0 0 24 24" fill="none" stroke="#374151" stroke-width="2.4" stroke-linecap="round" stroke-linejoin="round"><path d="M15 3h6v6M9 21H3v-6M21 3l-7 7M3 21l7-7"/></svg>
<div class="t " style="left:1102.5px;top:1038.6px;font-size:10.76px;line-height:10.76px;color:#374151;font-weight:400;">View All</div>
</div>
<svg style="left:0;top:0" width="1852" height="1315" viewBox="0 0 1852 1315"><defs>
<linearGradient id="bartop" x1="28" y1="0" x2="1814.4" y2="0" gradientUnits="userSpaceOnUse">
<stop offset="0" stop-color="#111417"/><stop offset="0.012" stop-color="#3a4046"/><stop offset="0.029" stop-color="#b0c0cc"/><stop offset="0.046" stop-color="#555b61"/><stop offset="0.063" stop-color="#1b1e21"/><stop offset="0.1" stop-color="#4b5258"/><stop offset="0.13" stop-color="#97a3ac"/>
<stop offset="0.87" stop-color="#97a3ac"/><stop offset="0.9" stop-color="#4b5258"/><stop offset="0.937" stop-color="#1b1e21"/><stop offset="0.954" stop-color="#555b61"/><stop offset="0.971" stop-color="#b0c0cc"/><stop offset="0.988" stop-color="#3a4046"/><stop offset="1" stop-color="#111417"/></linearGradient>
<linearGradient id="barlow" x1="0" y1="1197" x2="0" y2="1218.5" gradientUnits="userSpaceOnUse"><stop offset="0" stop-color="#767c81"/><stop offset="0.45" stop-color="#4a4f54"/><stop offset="0.9" stop-color="#1c1f22"/><stop offset="1" stop-color="#0e1012"/></linearGradient>
<linearGradient id="notch" x1="790.3" y1="0" x2="1054" y2="0" gradientUnits="userSpaceOnUse"><stop offset="0" stop-color="#3d3f42"/><stop offset="0.08" stop-color="#4a4c4f"/><stop offset="0.32" stop-color="#8f9ba3"/><stop offset="0.68" stop-color="#8f9ba3"/><stop offset="0.92" stop-color="#4a4c4f"/><stop offset="1" stop-color="#3d3f42"/></linearGradient>
</defs>
<path d="M28,1197.2 L1814.4,1197.2 C1772,1210 1722,1218.2 1663,1218.2 L179,1218.2 C120,1218.2 70,1210 28,1197.2 Z" fill="url(#barlow)"/>
<path d="M28,1189.5 Q28,1186.5 31,1186.5 L1811.4,1186.5 Q1814.4,1186.5 1814.4,1189.5 L1814.4,1197.4 L28,1197.4 Z" fill="url(#bartop)"/>
<path d="M790.3,1186.5 L1054,1186.5 L1054,1193 Q1054,1197.2 1049.8,1197.2 L794.5,1197.2 Q790.3,1197.2 790.3,1193 Z" fill="url(#notch)"/>
</svg>
<div class="a" style="left:27.5px;top:283.8px;width:437.2px;height:224.2px;background:#fff;border:1px solid #e5e7eb;border-radius:12px;box-shadow:0 1px 4px rgba(0,0,0,0.04);"></div>
<div class="t " style="left:46.5px;top:301.7px;font-size:11.06px;line-height:11.06px;color:#1a1a1a;font-weight:400;-webkit-text-stroke:0.35px #1a1a1a;">126 Visitors</div>
<div class="a" style="left:193.5px;top:302.9px;width:29.1px;height:14.4px;background:#d3fbe6;border:1px solid #5fe0a8;border-radius:2.5px;"></div>
<div class="t " style="left:208.0px;top:307.2px;font-size:7.5px;line-height:7.5px;color:#17a86a;font-weight:700;transform:translateX(-50%);">-99%</div>
<div class="a" style="left:46.5px;top:332.3px;width:176.1px;height:31.8px;background:#eff6ff;border:1px solid #e3e9f1;border-radius:2px;"></div>
<div class="t " style="left:59.3px;top:341.6px;font-size:11.3px;line-height:11.3px;color:#2b2b2b;font-weight:400;">/success-stories</div>
<div class="a" style="left:195.5px;top:341.2px;width:16.0px;height:16.0px;background:#363636;border-radius:2.5px;"></div>
<div class="t " style="left:203.5px;top:345.7px;font-size:8px;line-height:8px;color:#fff;font-weight:400;transform:translateX(-50%);">3</div>
<div class="a" style="left:46.5px;top:372.8px;width:176.1px;height:31.5px;background:#eff6ff;border:1px solid #e3e9f1;border-radius:2px;"></div>
<div class="t " style="left:59.3px;top:381.9px;font-size:11.3px;line-height:11.3px;color:#2b2b2b;font-weight:400;">/success-stories</div>
<div class="a" style="left:195.5px;top:381.6px;width:16.0px;height:16.0px;background:#363636;border-radius:2.5px;"></div>
<div class="t " style="left:203.5px;top:386.1px;font-size:8px;line-height:8px;color:#fff;font-weight:400;transform:translateX(-50%);">3</div>
<div class="a" style="left:46.5px;top:413.3px;width:176.1px;height:32.2px;background:#eff6ff;border:1px solid #e3e9f1;border-radius:2px;"></div>
<div class="t " style="left:59.3px;top:422.8px;font-size:11.3px;line-height:11.3px;color:#2b2b2b;font-weight:400;">/success-stories</div>
<div class="a" style="left:195.5px;top:422.4px;width:16.0px;height:16.0px;background:#363636;border-radius:2.5px;"></div>
<div class="t " style="left:203.5px;top:426.9px;font-size:8px;line-height:8px;color:#fff;font-weight:400;transform:translateX(-50%);">3</div>
<div class="a" style="left:46.5px;top:453.9px;width:176.1px;height:31.8px;background:#fc4a03;border-radius:2px;"></div>
<div class="t " style="left:59.3px;top:463.1px;font-size:11.3px;line-height:11.3px;color:#fff;font-weight:400;">/success-stories</div>
<div class="a" style="left:195.5px;top:462.8px;width:16.0px;height:16.0px;background:#fff;border-radius:2.5px;"></div>
<div class="t " style="left:203.5px;top:467.3px;font-size:8px;line-height:8px;color:#fc4a03;font-weight:400;transform:translateX(-50%);">3</div>
<div class="t " style="left:272.8px;top:301.7px;font-size:11.06px;line-height:11.06px;color:#1a1a1a;font-weight:400;-webkit-text-stroke:0.35px #1a1a1a;">126 Visitors</div>
<div class="a" style="left:420.2px;top:302.9px;width:28.8px;height:14.4px;background:#dce6ff;border:1px solid #7a9cf6;border-radius:2.5px;"></div>
<div class="t " style="left:434.6px;top:307.2px;font-size:7.5px;line-height:7.5px;color:#3864e6;font-weight:700;transform:translateX(-50%);">0%</div>
<div class="a" style="left:272.8px;top:332.3px;width:176.5px;height:31.8px;background:#fc4a03;border-radius:2px;"></div>
<div class="t " style="left:285.6px;top:341.6px;font-size:11.3px;line-height:11.3px;color:#fff;font-weight:400;">/success-stories</div>
<div class="a" style="left:422.2px;top:341.2px;width:16.0px;height:16.0px;background:#fff;border-radius:2.5px;"></div>
<div class="t " style="left:430.2px;top:345.7px;font-size:8px;line-height:8px;color:#fc4a03;font-weight:400;transform:translateX(-50%);">3</div>
<div class="a" style="left:272.8px;top:372.8px;width:176.5px;height:31.5px;background:#eff6ff;border:1px solid #e3e9f1;border-radius:2px;"></div>
<div class="t " style="left:285.6px;top:381.9px;font-size:11.3px;line-height:11.3px;color:#2b2b2b;font-weight:400;">/success-stories</div>
<div class="a" style="left:422.2px;top:381.6px;width:16.0px;height:16.0px;background:#363636;border-radius:2.5px;"></div>
<div class="t " style="left:430.2px;top:386.1px;font-size:8px;line-height:8px;color:#fff;font-weight:400;transform:translateX(-50%);">3</div>
<svg style="left:0;top:0" width="1852" height="1315" viewBox="0 0 1852 1315"><path d="M222.6,476.6 H238.5 Q253.8,476.6 253.8,461 V357.5 Q253.8,341.4 270,341.4 H273" fill="none" stroke="#f56a1e" stroke-width="1"/></svg>
<svg style="left:0;top:0" width="1852" height="1315" viewBox="0 0 1852 1315"><path d="M67.04,919.27 A75.4,75.4 0 1 1 137.13,1052.78 L124.83,1028.64 A48.3,48.3 0 1 0 79.93,943.11 Z" fill="#0b66f6"/><path d="M137.13,1052.78 A75.4,75.4 0 0 1 124.94,1057.71 L117.02,1031.79 A48.3,48.3 0 0 0 124.83,1028.64 Z" fill="#6a4dcb"/><path d="M124.94,1057.71 A75.4,75.4 0 0 1 92.41,1060.27 L96.18,1033.43 A48.3,48.3 0 0 0 117.02,1031.79 Z" fill="#f5940b"/><path d="M92.41,1060.27 A75.4,75.4 0 0 1 36.95,1022.15 L60.66,1009.02 A48.3,48.3 0 0 0 96.18,1033.43 Z" fill="#e8173c"/><path d="M36.95,1022.15 A75.4,75.4 0 0 1 67.04,919.27 L79.93,943.11 A48.3,48.3 0 0 0 60.66,1009.02 Z" fill="#42de7e"/></svg>
<div class="a" style="left:112.2px;top:687.8px;width:324.8px;height:299.5px;background:#fff;border:1px solid #eceef1;border-radius:11px;box-shadow:0 2px 8px rgba(0,0,0,0.05);"></div>
<div class="a" style="left:133.7px;top:712.3px;width:2.6px;height:2.6px;background:#7a7a7a;border-radius:50%;"></div>
<div class="a" style="left:133.7px;top:721.1px;width:2.6px;height:2.6px;background:#7a7a7a;border-radius:50%;"></div>
<div class="a" style="left:133.7px;top:729.8px;width:2.6px;height:2.6px;background:#7a7a7a;border-radius:50%;"></div>
<div class="a" style="left:143.0px;top:712.3px;width:2.6px;height:2.6px;background:#7a7a7a;border-radius:50%;"></div>
<div class="a" style="left:143.0px;top:721.1px;width:2.6px;height:2.6px;background:#7a7a7a;border-radius:50%;"></div>
<div class="a" style="left:143.0px;top:729.8px;width:2.6px;height:2.6px;background:#7a7a7a;border-radius:50%;"></div>
<div class="t " style="left:175.5px;top:706.2px;font-size:12.94px;line-height:12.94px;color:#1f2328;font-weight:400;-webkit-text-stroke:0.3px #1f2328;">Yearly Goals</div>
<div class="a" style="left:262.3px;top:705.8px;width:1.2px;height:14.1px;background:#d9dce1;"></div>
<div class="a" style="left:283.0px;top:706.5px;width:45.2px;height:18.4px;background:#d5e3fd;border-radius:4px;"></div>
<div class="t " style="left:305.6px;top:710.7px;font-size:9.6px;line-height:9.6px;color:#1d4ed8;font-weight:400;transform:translateX(-50%);">Goals</div>
<div class="t " style="left:175.5px;top:732.4px;font-size:12.9px;line-height:12.9px;color:#6b7280;font-weight:400;">Last 12 Months</div>
<div class="a" style="left:113.0px;top:760.0px;width:323.0px;height:1.0px;background:#f0f2f5;"></div>
<div class="t " style="left:275.2px;top:798.2px;font-size:14.86px;line-height:14.86px;color:#1f2328;font-weight:400;transform:translateX(-50%);-webkit-text-stroke:0.35px #1f2328;">Page Views</div>
<div class="t " style="left:274.3px;top:828.5px;font-size:32.23px;line-height:32.23px;color:#0b3ff0;font-weight:700;transform:translateX(-50%);">76%</div>
<div class="t " style="left:134.0px;top:865.7px;font-size:14.95px;line-height:14.95px;color:#1f2328;font-weight:400;-webkit-text-stroke:0.35px #1f2328;">7,080</div>
<svg style="left:0;top:0" width="1852" height="1315" viewBox="0 0 1852 1315"><g fill="none" stroke="#7c82a3" stroke-width="1.75" stroke-linecap="round"><path d="M352.63,866.7 A8,8 0 1 0 360.32,875.4"/><path d="M351.72,870.75 A4,4 0 1 0 356.18,875.87"/><path d="M352.6,874.4 L357.6,869.4"/></g><path d="M356.0,868.9 L357.9,866.3 L358.9,868.0 L361.3,868.9 L359.3,871.3 L357.6,870.6 Z" fill="#7c82a3" stroke="#7c82a3" stroke-width="0.8" stroke-linejoin="round"/></svg>
<div class="t " style="left:368.8px;top:865.7px;font-size:14.95px;line-height:14.95px;color:#7e84a5;font-weight:400;">8,000</div>
<div class="a" style="left:134.0px;top:892.0px;width:162.4px;height:9.9px;background:#dbe6fb;border-radius:5px;"></div>
<div class="a" style="left:134.0px;top:892.0px;width:127.8px;height:9.9px;background:#0a35f0;border-radius:5px;"></div>
<svg style="left:135.6px;top:939.2px" width="16" height="12.5" viewBox="0 0 16 12.5" fill="none" stroke="#0d3ef2" stroke-width="1.25"><rect x="0.8" y="0.8" width="14" height="10.9" rx="1.6"/><path d="M0.8 4.9h14"/><circle cx="2.9" cy="3.1" r="0.55" fill="#0d3ef2" stroke="none"/><circle cx="4.9" cy="3.1" r="0.55" fill="#0d3ef2" stroke="none"/></svg>
<div class="t " style="left:161.5px;top:935.3px;font-size:11.47px;line-height:11.47px;color:#9ca3af;font-weight:400;">/article/understanding-encryption-exploring-</div>
<div class="t " style="left:161.5px;top:947.6px;font-size:11.3px;line-height:11.3px;color:#9ca3af;font-weight:400;">secure-messaging-in-signal-and-telegram</div>
<div class="a" style="left:1223.0px;top:8.0px;width:501.5px;height:462.0px;background:#fff;border:1px solid #e9ecf0;border-radius:20px;box-shadow:0 4px 14px rgba(0,0,0,0.05);"></div>
<div class="a" style="left:1256.2px;top:46.0px;width:3.6px;height:3.6px;background:#6b6b6b;border-radius:50%;"></div>
<div class="a" style="left:1256.2px;top:59.4px;width:3.6px;height:3.6px;background:#6b6b6b;border-radius:50%;"></div>
<div class="a" style="left:1256.2px;top:72.9px;width:3.6px;height:3.6px;background:#6b6b6b;border-radius:50%;"></div>
<div class="a" style="left:1270.8px;top:46.0px;width:3.6px;height:3.6px;background:#6b6b6b;border-radius:50%;"></div>
<div class="a" style="left:1270.8px;top:59.4px;width:3.6px;height:3.6px;background:#6b6b6b;border-radius:50%;"></div>
<div class="a" style="left:1270.8px;top:72.9px;width:3.6px;height:3.6px;background:#6b6b6b;border-radius:50%;"></div>
<div class="t " style="left:1320.6px;top:39.5px;font-size:19.95px;line-height:19.95px;color:#111;font-weight:400;-webkit-text-stroke:0.25px #111;">Company</div>
<div class="a" style="left:1425.0px;top:38.0px;width:1.5px;height:21.6px;background:#d4d4d8;"></div>
<div class="a" style="left:1460.0px;top:36.0px;width:83.0px;height:30.9px;background:#f7b9d4;border-radius:7px;"></div>
<div class="t " style="left:1501.5px;top:41.9px;font-size:14.51px;line-height:14.51px;color:#e0115f;font-weight:400;transform:translateX(-50%);-webkit-text-stroke:0.25px #e0115f;">Insights</div>
<div class="t " style="left:1320.6px;top:74.9px;font-size:19.88px;line-height:19.88px;color:#6e6e73;font-weight:400;">Last 12 Months</div>
<div class="a" style="left:1224.0px;top:118.5px;width:499.5px;height:1.0px;background:#eef1f5;"></div>
<div class="t " style="left:1234.7px;top:169.6px;font-size:21.13px;line-height:21.13px;color:#111;font-weight:400;-webkit-text-stroke:0.3px #111;">680 Visitors</div>
<div class="a" style="left:1354.0px;top:171.3px;width:38.8px;height:16.1px;background:#e3f5e7;border-radius:5px;"></div>
<svg style="left:1358.5px;top:175.3px" width="9" height="8" viewBox="0 0 24 20" fill="none" stroke="#3aa15a" stroke-width="2.6" stroke-linecap="round" stroke-linejoin="round"><path d="M2 16l6.5-6.5 5 5L22 5"/><path d="M15 5h7v7"/></svg>
<div class="t " style="left:1372.0px;top:175.8px;font-size:7.5px;line-height:7.5px;color:#3aa15a;font-weight:400;">12%</div>
<div class="t " style="left:1234.7px;top:196.7px;font-size:8.98px;line-height:8.98px;color:#6b7280;font-weight:400;">This Month</div>
<div class="a" style="left:1508.5px;top:167.4px;width:204.2px;height:28.1px;border:1px solid #27272a;border-radius:6px;"></div>
<div class="t " style="left:1517.8px;top:176.1px;font-size:11.34px;line-height:11.34px;color:#111;font-weight:400;-webkit-text-stroke:0.2px #111;">January, 2023 - December, 2023</div>
<svg style="left:1692.5px;top:178px" width="10" height="7" viewBox="0 0 10 7" fill="none" stroke="#111" stroke-width="1.4" stroke-linecap="round" stroke-linejoin="round"><path d="M1 1.2l4 4 4-4"/></svg>
<svg style="left:0;top:0" width="1852" height="1315" viewBox="0 0 1852 1315"><defs><linearGradient id="cg" x1="0" y1="215" x2="0" y2="374" gradientUnits="userSpaceOnUse"><stop offset="0" stop-color="#dcdfe3" stop-opacity="0.95"/><stop offset="0.5" stop-color="#eef1f4" stop-opacity="0.8"/><stop offset="1" stop-color="#f7f9fb" stop-opacity="0.5"/></linearGradient></defs><path d="M1275.5,373.6 L1275.5,244.5 L1281.3,244.5 L1327.1,244.0 L1355.1,251.3 L1394.3,232.4 L1434.2,266.1 L1473.4,276.9 L1512.0,287.7 L1553.0,252.6 L1586.8,240.0 L1633.5,218.9 L1671.0,278.8 L1713.1,246.4 L1713.1,373.6 Z" fill="url(#cg)"/><line x1="1276.3" y1="225.6" x2="1712.3" y2="225.6" stroke="#cfd2d6" stroke-width="1" stroke-dasharray="3 3"/><line x1="1276.3" y1="274.8" x2="1712.3" y2="274.8" stroke="#cfd2d6" stroke-width="1" stroke-dasharray="3 3"/><line x1="1276.3" y1="324.5" x2="1712.3" y2="324.5" stroke="#cfd2d6" stroke-width="1" stroke-dasharray="3 3"/><line x1="1276.3" y1="373.6" x2="1712.3" y2="373.6" stroke="#cfd2d6" stroke-width="1" stroke-dasharray="3 3"/><line x1="1281" y1="288" x2="1281" y2="383" stroke="#555" stroke-width="1" stroke-dasharray="2.5 2.5"/><polyline points="1281.3,244.5 1327.1,244.0 1355.1,251.3 1394.3,232.4 1434.2,266.1 1473.4,276.9 1512.0,287.7 1553.0,252.6 1586.8,240.0 1633.5,218.9 1671.0,278.8 1713.1,246.4" fill="none" stroke="#1a1a1a" stroke-width="1.6" stroke-linejoin="miter"/></svg>
<div class="t " style="right:594.4px;top:222.7px;font-size:10px;line-height:10px;color:#333;font-weight:400;">100</div>
<div class="t " style="right:594.4px;top:270.3px;font-size:10px;line-height:10px;color:#333;font-weight:400;">50</div>
<div class="t " style="right:594.4px;top:320.0px;font-size:10px;line-height:10px;color:#333;font-weight:400;">25</div>
<div class="t " style="right:594.4px;top:369.1px;font-size:10px;line-height:10px;color:#333;font-weight:400;">0</div>
<div class="t " style="left:1284.1px;top:393.8px;font-size:10px;line-height:10px;color:#222;font-weight:400;transform:translateX(-50%);">Jan</div>
<div class="t " style="left:1322.2px;top:393.8px;font-size:10px;line-height:10px;color:#222;font-weight:400;transform:translateX(-50%);">Feb</div>
<div class="t " style="left:1360.2px;top:393.8px;font-size:10px;line-height:10px;color:#222;font-weight:400;transform:translateX(-50%);">Mar</div>
<div class="t " style="left:1398.3px;top:393.8px;font-size:10px;line-height:10px;color:#222;font-weight:400;transform:translateX(-50%);">Apr</div>
<div class="t " style="left:1436.4px;top:393.8px;font-size:10px;line-height:10px;color:#222;font-weight:400;transform:translateX(-50%);">May</div>
<div class="t " style="left:1474.4px;top:393.8px;font-size:10px;line-height:10px;color:#222;font-weight:400;transform:translateX(-50%);">Jun</div>
<div class="t " style="left:1512.5px;top:393.8px;font-size:10px;line-height:10px;color:#222;font-weight:400;transform:translateX(-50%);">Jul</div>
<div class="t " style="left:1550.6px;top:393.8px;font-size:10px;line-height:10px;color:#222;font-weight:400;transform:translateX(-50%);">Aug</div>
<div class="t " style="left:1588.7px;top:393.8px;font-size:10px;line-height:10px;color:#222;font-weight:400;transform:translateX(-50%);">Sep</div>
<div class="t " style="left:1626.7px;top:393.8px;font-size:10px;line-height:10px;color:#222;font-weight:400;transform:translateX(-50%);">Oct</div>
<div class="a" style="left:1235.0px;top:224.0px;width:92.0px;height:50.5px;background:#fff;border-radius:6px;box-shadow:0 4px 14px rgba(0,0,0,0.11);"></div>
<svg style="left:1278.4px;top:274px" width="8" height="4" viewBox="0 0 8 4"><path d="M0 0L4 3.5L8 0Z" fill="#fff"/></svg>
<div class="a" style="left:1242.5px;top:232.0px;width:10.0px;height:10.0px;background:#111;border-radius:50%;"></div>
<svg style="left:1244.5px;top:234px" width="6" height="6" viewBox="0 0 6 6" fill="none" stroke="#bbb" stroke-width="0.8"><rect x="0.6" y="1.5" width="4.8" height="3.6" rx="0.6"/><path d="M2 1.5V0.7h2v0.8"/></svg>
<div class="t " style="left:1257.0px;top:233.3px;font-size:7.74px;line-height:7.74px;color:#6b7280;font-weight:400;">May 2023</div>
<div class="a" style="left:1243.5px;top:248.0px;width:75.3px;height:18.5px;background:#f8fafc;border:1px solid #e5e7eb;border-radius:3px;"></div>
<div class="t " style="left:1250.0px;top:253.5px;font-size:7.69px;line-height:7.69px;color:#6b7280;font-weight:400;">Active Visiors</div>
<div class="t " style="left:1301.0px;top:253.1px;font-size:8px;line-height:8px;color:#111;font-weight:700;">51</div>
<div class="a" style="left:1276.5px;top:280.8px;width:9.0px;height:9.0px;background:#fff;border-radius:50%;box-shadow:0 1px 4px rgba(0,0,0,0.25);"></div>
<div class="a" style="left:1279.2px;top:283.5px;width:3.6px;height:3.6px;background:#111;border-radius:50%;"></div>
<svg style="left:0;top:0" width="1852" height="1315" viewBox="0 0 1852 1315"><defs><linearGradient id="gray" x1="1655" y1="0" x2="1724" y2="0" gradientUnits="userSpaceOnUse"><stop offset="0" stop-color="#8f9092"/><stop offset="1" stop-color="#67686a"/></linearGradient><linearGradient id="blk" x1="1660" y1="330" x2="1830" y2="500" gradientUnits="userSpaceOnUse"><stop offset="0" stop-color="#2c2d2d"/><stop offset="1" stop-color="#1e1f1f"/></linearGradient><clipPath id="cardclip"><path d="M1223,8 H1704.5 Q1724.5,8 1724.5,28 V450 Q1724.5,470 1704.5,470 H1223 Z"/></clipPath></defs><path d="M1666.50,382.00 A85.7,85.7 0 0 1 1768.07,334.09 L1755.94,368.35 A49.5,49.5 0 0 0 1700.64,394.43 Z" fill="#ff6a10" stroke="#ff6a10" stroke-width="9.0" stroke-linejoin="round"/><path d="M1778.82,337.90 A85.7,85.7 0 0 1 1818.96,373.47 L1786.41,389.63 A49.5,49.5 0 0 0 1766.69,372.15 Z" fill="#86dfc1" stroke="#86dfc1" stroke-width="9.0" stroke-linejoin="round"/><path d="M1824.03,383.68 A85.7,85.7 0 0 1 1830.59,418.08 L1794.38,415.03 A49.5,49.5 0 0 0 1791.48,399.84 Z" fill="#95b9d7" stroke="#95b9d7" stroke-width="9.0" stroke-linejoin="round"/><path d="M1829.63,429.44 A85.7,85.7 0 1 1 1662.60,392.71 L1696.75,405.14 A49.5,49.5 0 1 0 1793.42,426.39 Z" fill="url(#blk)" stroke="url(#blk)" stroke-width="9.0" stroke-linejoin="round"/><g clip-path="url(#cardclip)"><path d="M1829.63,429.44 A85.7,85.7 0 1 1 1662.60,392.71 L1696.75,405.14 A49.5,49.5 0 1 0 1793.42,426.39 Z" fill="url(#gray)" stroke="url(#gray)" stroke-width="9.0" stroke-linejoin="round"/></g></svg>
<div class="t " style="left:1664.8px;top:393.8px;font-size:10px;line-height:10px;color:#222;font-weight:400;transform:translateX(-50%);">Nov</div>
<div class="t " style="left:1702.9px;top:393.8px;font-size:10px;line-height:10px;color:#222;font-weight:400;transform:translateX(-50%);">Dec</div>
<div class="a" style="left:1616.0px;top:604.6px;width:235.0px;height:122.8px;background:#a8d7fc;border-radius:10px;"></div>
<div class="t " style="left:1632.0px;top:636.0px;font-size:13.99px;line-height:13.99px;color:#1a1a1a;font-weight:700;">Views</div>
<svg style="left:1820px;top:634px" width="15" height="13" viewBox="0 0 24 24" fill="none" stroke="#16a34a" stroke-width="2.8" stroke-linecap="round" stroke-linejoin="round"><path d="M2 17l6.5-6.5 5 5L22 7"/><path d="M15 7h7v7"/></svg>
<div class="t " style="right:16.5px;top:659.2px;font-size:12.56px;line-height:12.56px;color:#15a33a;font-weight:400;">+11.02%</div>
<div class="t " style="left:1631.0px;top:666.5px;font-size:28px;line-height:28px;color:#1a1a1a;font-weight:400;letter-spacing:1.6px;-webkit-text-stroke:0.9px #1a1a1a;">9,365</div>
<div class="a" style="left:1453.4px;top:744.4px;width:257.2px;height:135.0px;background:#fde5a4;border-radius:10px;"></div>
<div class="t " style="left:1470.0px;top:776.7px;font-size:15.19px;line-height:15.19px;color:#1a1a1a;font-weight:700;">Average Visit Time</div>
<svg style="left:1677.5px;top:776.5px" width="16" height="14" viewBox="0 0 24 24" fill="none" stroke="#16a34a" stroke-width="2.8" stroke-linecap="round" stroke-linejoin="round"><path d="M2 17l6.5-6.5 5 5L22 7"/><path d="M15 7h7v7"/></svg>
<div class="t " style="right:156.7px;top:802.6px;font-size:13.71px;line-height:13.71px;color:#15a33a;font-weight:400;">+11.02%</div>
<div class="t " style="left:1469.5px;top:815.0px;font-size:30px;line-height:30px;color:#1a1a1a;font-weight:400;letter-spacing:1.8px;-webkit-text-stroke:0.9px #1a1a1a;">7,821</div>
</body></html>
